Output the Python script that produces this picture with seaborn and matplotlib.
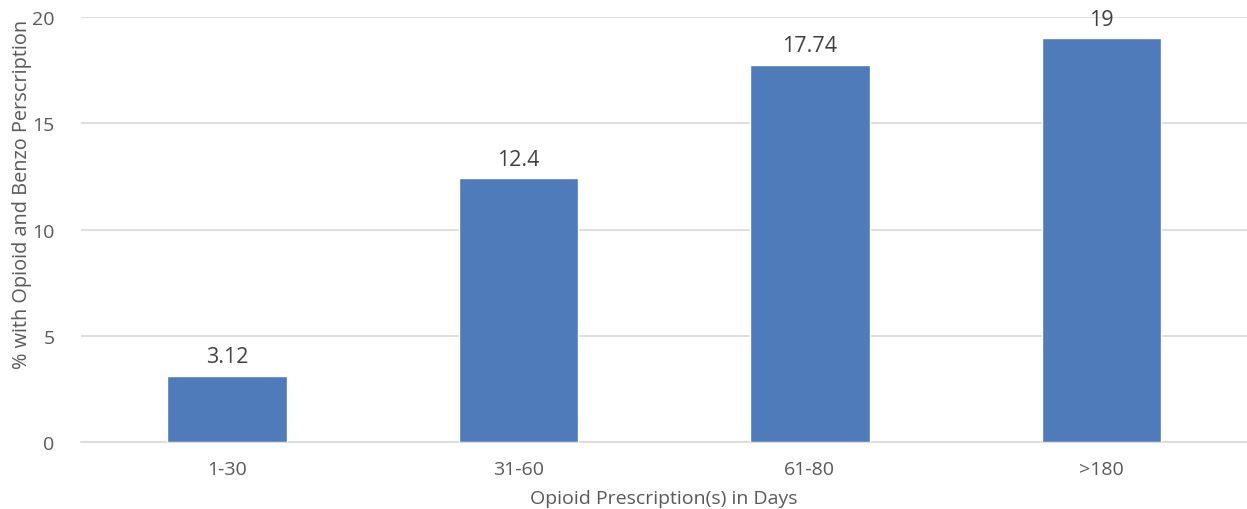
import matplotlib
matplotlib.use("Agg")
import matplotlib.pyplot as plt
import seaborn as sns
import pandas as pd

categories = ["1-30", "31-60", "61-80", ">180"]
values = [3.12, 12.4, 17.74, 19]
value_labels = ["3.12", "12.4", "17.74", "19"]

sns.set_theme(style="white")
plt.rcParams['font.family'] = ['Open Sans', 'DejaVu Sans']

df = pd.DataFrame({"cat": categories, "val": values})
fig = plt.figure(figsize=(12.47, 5.10), dpi=100)
ax = fig.add_axes([0.065, 0.131, 0.935, 0.834])
sns.barplot(data=df, x="cat", y="val", color="#4F7BBA", saturation=1, width=0.41, ax=ax, zorder=3)
ax.set_ylim(0, 20)
ax.set_yticks([0, 5, 10, 15, 20])
ax.yaxis.grid(True, color="#D9D9D9", linewidth=1.2, zorder=0)
for s in ["top", "right", "left"]:
    ax.spines[s].set_visible(False)
ax.spines["bottom"].set_color("#D9D9D9")
ax.spines["bottom"].set_linewidth(1.2)
ax.tick_params(axis="both", length=0, colors="#595959", labelsize=14)
ax.tick_params(axis="y", pad=19)
ax.tick_params(axis="x", pad=13)
for i, (v, lab) in enumerate(zip(values, value_labels)):
    ax.text(i, v + 0.4, lab, ha="center", va="bottom", fontsize=15.5, color="#404040")
ax.set_xlabel("Opioid Prescription(s) in Days", fontsize=14, color="#595959", va="center")
ax.set_ylabel("% with Opioid and Benzo Perscription", fontsize=14.3, color="#595959", va="center")
ax.xaxis.set_label_coords(0.5, -0.132)
ax.yaxis.set_label_coords(-0.0506, 0.584)
fig.savefig("out.png", dpi=100)
